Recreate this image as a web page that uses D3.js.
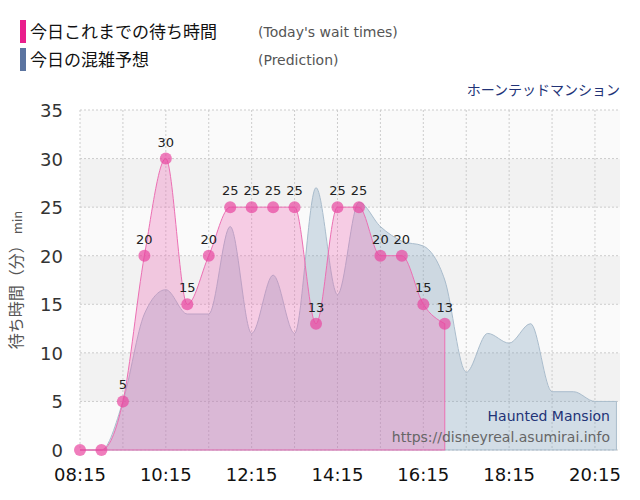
<!DOCTYPE html>
<html><head><meta charset="utf-8">
<script src="https://cdn.jsdelivr.net/npm/d3@7"></script>
<style>body{margin:0;background:#fff;font-family:"DejaVu Sans","Noto Sans CJK JP",sans-serif}</style>
</head><body>
<svg id="c" width="640" height="500"></svg>
<script>
// Actual wait times (every 30 min)
const waitTimes = ["08:15","08:45","09:15","09:45","10:15","10:45","11:15","11:45","12:15","12:45","13:15","13:45","14:15","14:45","15:15","15:45","16:15","16:45"];
const waitValues = [0,0,5,20,30,15,20,25,25,25,25,13,25,25,20,20,15,13];
// Predicted congestion
const predTimes = ["08:15","08:45","09:15","09:45","10:15","10:45","11:15","11:45","12:15","12:45","13:15","13:45","14:15","14:45","15:15","15:45","16:15","16:45","17:15","17:45","18:15","18:45","19:15","19:45","20:15","20:45"];
const predValues = [0,0,5,14,16.5,14,14,23,12,18,12,27,16,25.5,23,21.5,21,17.5,8,12,11,13,6,6,5,5];
const xTicks = ["08:15","10:15","12:15","14:15","16:15","18:15","20:15"];
const yTicks = [0,5,10,15,20,25,30,35];

const parse = d3.timeParse("%H:%M");
const svg = d3.select("#c");
const m = {l:80, r:620, t:110, b:450};
const x = d3.scaleTime().domain([parse("08:15"), parse("20:50")]).range([m.l, m.r]);
const y = d3.scaleLinear().domain([0,35]).range([m.b, m.t]);

// bands
yTicks.slice(0,-1).forEach((v,i)=>{
  svg.append("rect").attr("x",m.l).attr("width",m.r-m.l)
    .attr("y",y(v+5)).attr("height",y(v)-y(v+5))
    .attr("fill", i%2 ? "#f2f2f2" : "#fafafa");
});
// grid
svg.append("g").selectAll("line").data(yTicks).join("line")
  .attr("x1",m.l).attr("x2",m.r).attr("y1",d=>y(d)).attr("y2",d=>y(d))
  .attr("stroke","#ccc").attr("stroke-dasharray","2,2");
const hourTicks = d3.range(0,13).map(i=>d3.timeHour.offset(parse("08:15"),i));
svg.append("g").selectAll("line").data(hourTicks).join("line")
  .attr("x1",d=>x(d)).attr("x2",d=>x(d)).attr("y1",m.t).attr("y2",m.b)
  .attr("stroke","#ccc").attr("stroke-dasharray","2,2");

// prediction area
const pred = predTimes.map((t,i)=>({t:parse(t),v:predValues[i]}));
svg.append("path").datum(pred)
  .attr("d", d3.area().curve(d3.curveMonotoneX).x(d=>x(d.t)).y0(y(0)).y1(d=>y(d.v)))
  .attr("fill","rgba(120,155,185,0.3)").attr("stroke","#a9bccc").attr("stroke-width",1);

// wait area
const wait = waitTimes.map((t,i)=>({t:parse(t),v:waitValues[i]}));
svg.append("path").datum(wait)
  .attr("d", d3.area().curve(d3.curveMonotoneX).x(d=>x(d.t)).y0(y(0)).y1(d=>y(d.v)))
  .attr("fill","rgba(240,100,180,0.3)").attr("stroke","#ec6fb3").attr("stroke-width",1);
svg.append("g").selectAll("circle").data(wait).join("circle")
  .attr("cx",d=>x(d.t)).attr("cy",d=>y(d.v)).attr("r",6)
  .attr("fill","rgba(232,70,160,0.7)");
svg.append("g").selectAll("text").data(wait.filter(d=>d.v>0)).join("text")
  .attr("x",d=>x(d.t)).attr("y",d=>y(d.v)-12).attr("text-anchor","middle")
  .attr("font-size",13).attr("fill","#222").text(d=>d.v);

// axes labels
svg.append("g").selectAll("text").data(yTicks).join("text")
  .attr("x",63).attr("y",d=>y(d)+7).attr("text-anchor","end")
  .attr("font-size",18).attr("fill","#333").text(d=>d);
svg.append("g").selectAll("text").data(xTicks).join("text")
  .attr("x",d=>x(parse(d))).attr("y",481).attr("text-anchor","middle")
  .attr("font-size",18).attr("fill","#111").text(d=>d);
svg.append("text").attr("transform","translate(22,280) rotate(-90)")
  .attr("text-anchor","middle").attr("font-size",16).attr("fill","#555")
  .attr("font-family","Noto Sans CJK JP")
  .text("待ち時間（分）").append("tspan").attr("font-size",13).text(" min");

// legend
const legend = [["今日これまでの待ち時間","(Today's wait times)","#e91e8c"],["今日の混雑予想","(Prediction)","#5b74a0"]];
legend.forEach((d,i)=>{
  const yy = 20 + i*28;
  svg.append("rect").attr("x",20).attr("y",yy).attr("width",6).attr("height",23).attr("fill",d[2]);
  svg.append("text").attr("x",30).attr("y",yy+18).attr("font-size",17).attr("fill","#111")
    .attr("font-family","Noto Sans CJK JP").text(d[0]);
  svg.append("text").attr("x",258).attr("y",yy+17).attr("font-size",14).attr("fill","#555").text(d[1]);
});
svg.append("text").attr("x",620).attr("y",95).attr("text-anchor","end")
  .attr("font-size",14).attr("fill","#223377").attr("font-family","Noto Sans CJK JP").text("ホーンテッドマンション");
svg.append("text").attr("x",610).attr("y",421).attr("text-anchor","end")
  .attr("font-size",14).attr("fill","#223377").text("Haunted Mansion");
svg.append("text").attr("x",610).attr("y",442).attr("text-anchor","end")
  .attr("font-size",14).attr("fill","#666").text("https://disneyreal.asumirai.info");
</script>
</body></html>
